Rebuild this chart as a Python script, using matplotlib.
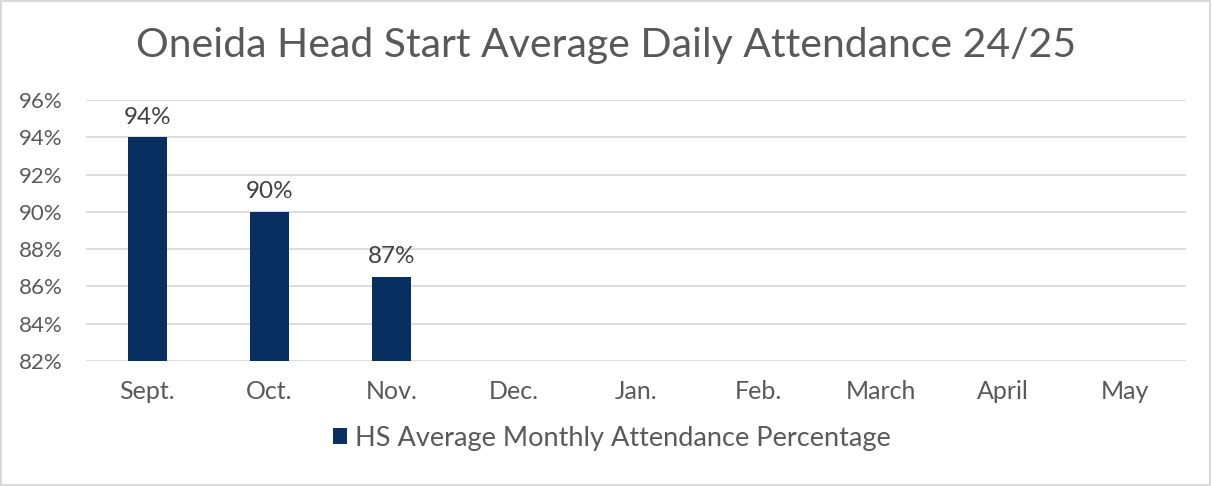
import matplotlib.pyplot as plt
from matplotlib.patches import Rectangle

months = ['Sept.', 'Oct.', 'Nov.', 'Dec.', 'Jan.', 'Feb.', 'March', 'April', 'May']
attendance = [94.0, 90.0, 86.5]
bar_labels = ['94%', '90%', '87%']
y_ticks = [82, 84, 86, 88, 90, 92, 94, 96]

BAR_COLOR = '#072F5F'
TEXT_COLOR = '#595959'
GRID_COLOR = '#D9D9D9'

plt.rcParams['font.family'] = ['Lato', 'DejaVu Sans']

fig = plt.figure(figsize=(12.12, 4.86), dpi=100)
ax = fig.add_axes([86 / 1212, 1 - 361 / 486, 1100 / 1212, 261 / 486])

x = list(range(len(months)))
bars = ax.bar(x[:len(attendance)], attendance, width=0.32, color=BAR_COLOR,
              label='HS Average Monthly Attendance Percentage', zorder=3)
for b, lab in zip(bars, bar_labels):
    ax.annotate(lab, (b.get_x() + b.get_width() / 2, b.get_height()),
                xytext=(0, 7), textcoords='offset points', ha='center', va='bottom',
                fontsize=17.5, color='#404040')

ax.set_xlim(-0.5, len(months) - 0.5)
ax.set_ylim(82, 96)
ax.set_yticks(y_ticks)
ax.set_yticklabels(['{}%'.format(v) for v in y_ticks])
ax.set_xticks(x)
ax.set_xticklabels(months)
ax.tick_params(axis='both', length=0, labelcolor=TEXT_COLOR)
ax.tick_params(axis='x', pad=14, labelsize=18)
ax.tick_params(axis='y', pad=17, labelsize=16)
ax.grid(axis='y', color=GRID_COLOR, linewidth=1.3, zorder=0)
for s in ax.spines.values():
    s.set_visible(False)

fig.suptitle('Oneida Head Start Average Daily Attendance 24/25', y=1 - 45 / 486,
             va='center', fontsize=29.5, color=TEXT_COLOR)

leg = fig.legend(loc='center', bbox_to_anchor=(0.505, 1 - 438 / 486), frameon=False,
                 fontsize=19.5, handlelength=0.5, handleheight=0.5, handletextpad=0.3)
for t in leg.get_texts():
    t.set_color(TEXT_COLOR)

fig.patches.append(Rectangle((0.001, 0.002), 0.997, 0.995, transform=fig.transFigure,
                             fill=False, edgecolor=GRID_COLOR, linewidth=1.5))

fig.savefig('out.png', dpi=100)
